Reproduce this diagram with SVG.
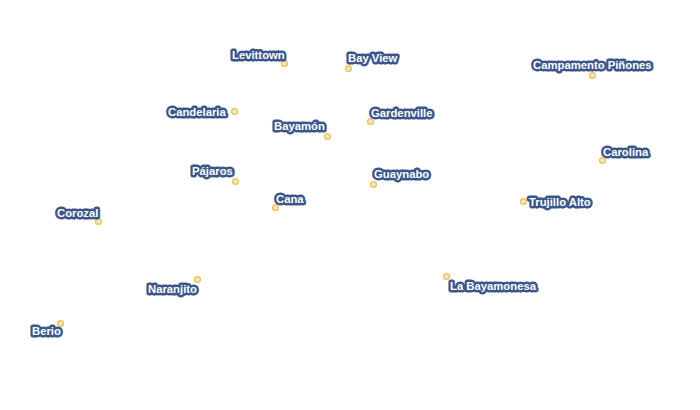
<svg xmlns="http://www.w3.org/2000/svg" width="700" height="410" viewBox="0 0 700 410">
<style>
.d{fill:#e6e6ea;stroke:#f7c23c;stroke-width:1.3}
text{font-family:"Liberation Sans",Arial,sans-serif;font-size:11.3px;font-weight:bold;fill:#fff;stroke:#3b5688;stroke-width:4.8px;stroke-linejoin:round;paint-order:stroke fill}
</style>
<rect width="700" height="410" fill="#fff"/>
<g id="connectors"/>
<g id="levittown"><circle class="d" cx="284.500" cy="63.500" r="2.900"/><text x="232" y="59">Levittown</text></g>
<g id="bayview"><circle class="d" cx="348.500" cy="68.500" r="2.900"/><text x="348" y="62">Bay View</text></g>
<g id="campamento"><circle class="d" cx="592.500" cy="75.500" r="2.900"/><text x="533" y="69">Campamento Piñones</text></g>
<g id="candelaria"><circle class="d" cx="234.500" cy="111.500" r="2.900"/><text x="168" y="116">Candelaria</text></g>
<g id="gardenville"><circle class="d" cx="370.500" cy="121.500" r="2.900"/><text x="371" y="117">Gardenville</text></g>
<g id="bayamon"><circle class="d" cx="327.500" cy="136.500" r="2.900"/><text x="274" y="130">Bayamón</text></g>
<g id="carolina"><circle class="d" cx="602.500" cy="160.500" r="2.900"/><text x="603" y="156">Carolina</text></g>
<g id="pajaros"><circle class="d" cx="235.500" cy="181.500" r="2.900"/><text x="192" y="175">Pájaros</text></g>
<g id="guaynabo"><circle class="d" cx="373.500" cy="184.500" r="2.900"/><text x="374" y="178">Guaynabo</text></g>
<g id="trujillo"><circle class="d" cx="523.500" cy="201.500" r="2.900"/><text x="529" y="206">Trujillo Alto</text></g>
<g id="cana"><circle class="d" cx="275.500" cy="207.500" r="2.900"/><text x="276" y="203">Cana</text></g>
<g id="corozal"><circle class="d" cx="98.500" cy="221.500" r="2.900"/><text x="57" y="217">Corozal</text></g>
<g id="labayamonesa"><circle class="d" cx="446.500" cy="276.500" r="2.900"/><text x="450" y="290">La Bayamonesa</text></g>
<g id="naranjito"><circle class="d" cx="197.500" cy="279.500" r="2.900"/><text x="148" y="293">Naranjito</text></g>
<g id="berio"><circle class="d" cx="60.500" cy="323.500" r="2.900"/><text x="32" y="335">Berio</text></g>
</svg>
